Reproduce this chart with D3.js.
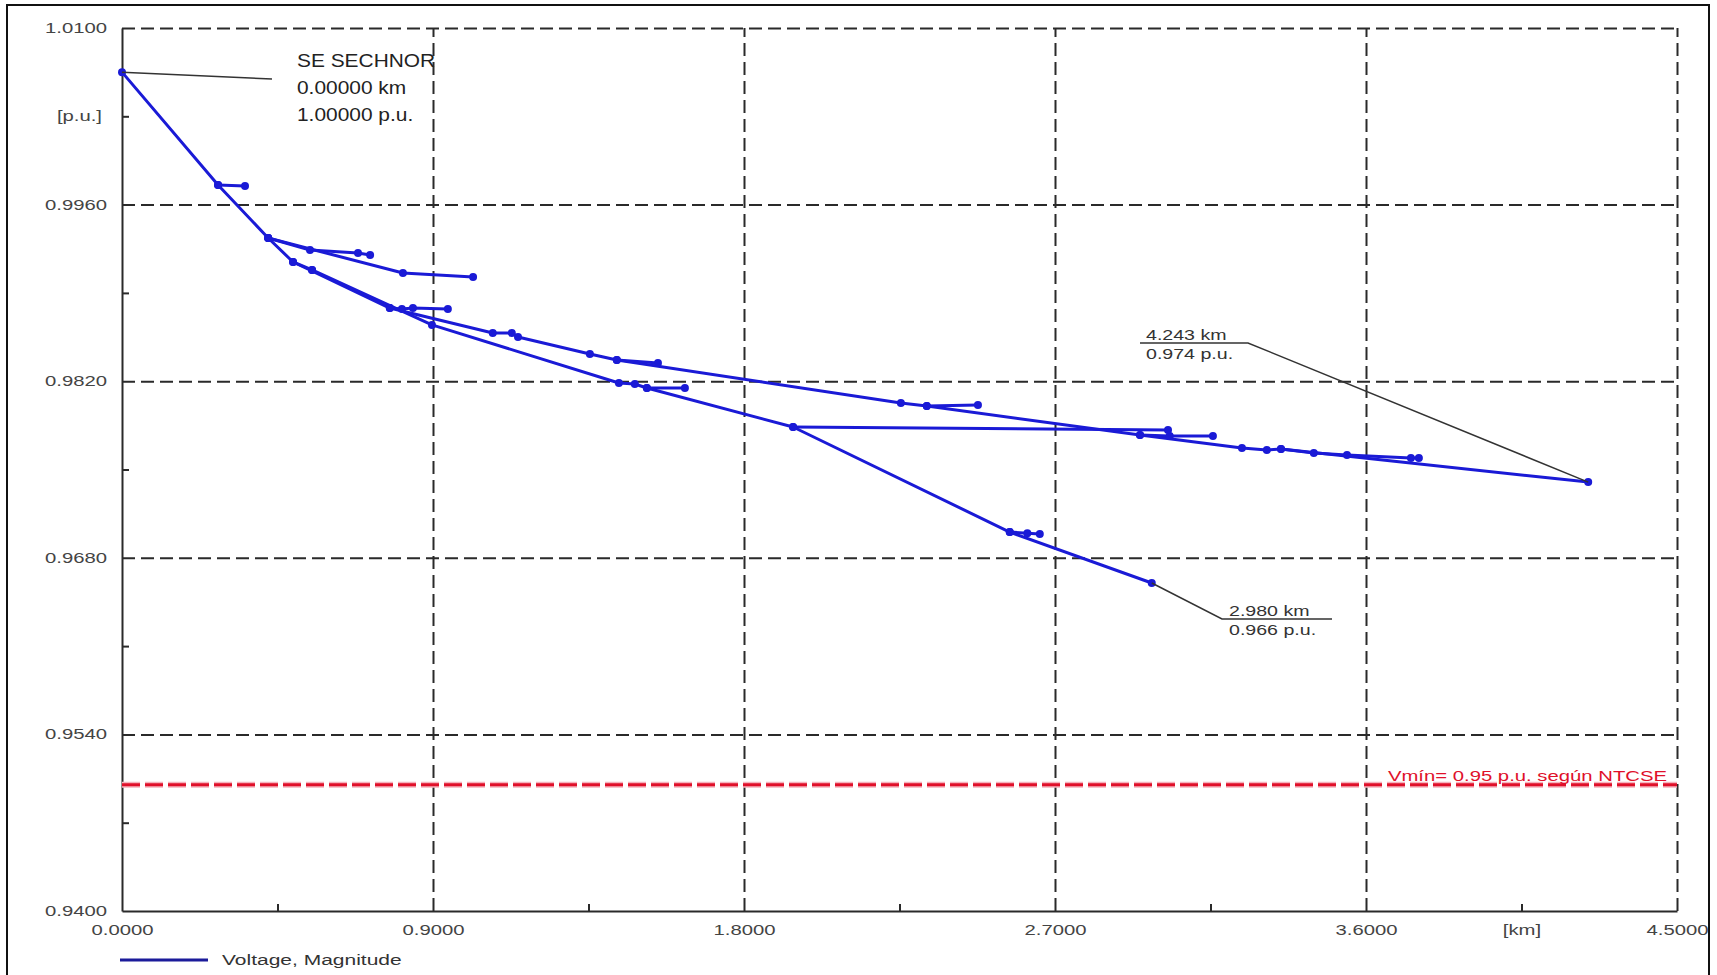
<!DOCTYPE html>
<html>
<head>
<meta charset="utf-8">
<script src="https://cdn.jsdelivr.net/npm/d3@7"></script>
<style>
body { margin: 0; background: #fff; }
svg { display: block; font-family: "Liberation Sans", Arial, sans-serif; }
</style>
</head>
<body>
<svg id="svg"></svg>
<script>
var width = 1717, height = 975;

// voltage profile, each branch as [distance km, voltage p.u.]
var trunk = [[0, 1.0065], [0.278, 0.99755], [0.423, 0.99335], [0.495, 0.99145], [0.550, 0.99082]];
var spur1 = [[0.278, 0.99755], [0.356, 0.99747]];
var upperA = [[0.423, 0.99335], [0.544, 0.9924], [0.683, 0.99216], [0.718, 0.9920]];
var upperB = [[0.423, 0.99335], [0.813, 0.99058], [1.016, 0.99026]];
var feederA = [[0.495, 0.99145], [0.775, 0.9878], [1.073, 0.98582], [1.128, 0.98582], [1.146, 0.9855],
	[1.354, 0.98416], [1.432, 0.98368], [2.254, 0.98027], [2.329, 0.98003], [2.946, 0.97773],
	[3.241, 0.9767], [3.313, 0.97654], [3.354, 0.97662], [4.243, 0.974]];
var spurA1 = [[0.775, 0.9878], [0.810, 0.98772], [0.842, 0.9878], [0.943, 0.98772]];
var spurA2 = [[1.432, 0.98368], [1.551, 0.98344]];
var spurA3 = [[2.329, 0.98003], [2.477, 0.98011]];
var spurA4 = [[2.946, 0.97773], [3.032, 0.97765], [3.157, 0.97765]];
var spurA5 = [[3.354, 0.97662], [3.449, 0.97631], [3.545, 0.97615], [3.730, 0.97591], [3.753, 0.97591]];
var feederB = [[0.550, 0.99082], [0.897, 0.98646], [1.438, 0.98186], [1.484, 0.98178], [1.519, 0.98146],
	[1.942, 0.97837], [2.569, 0.97004], [2.980, 0.966]];
var spurB1 = [[1.519, 0.98146], [1.629, 0.98146]];
var spurB2 = [[1.942, 0.97837], [3.027, 0.97813]];
var spurB3 = [[2.569, 0.97004], [2.620, 0.96995], [2.656, 0.96989]];

var xTicks = [0, 0.9, 1.8, 2.7, 3.6, 4.5];
var xMinor = [0.45, 1.35, 2.25, 3.15, 4.05];
var yTicks = [0.94, 0.954, 0.968, 0.982, 0.996, 1.01];
var yMinor = [0.947, 0.961, 0.975, 0.989, 1.003];
var xUnit = "[km]", yUnit = "[p.u.]";
var vmin = 0.95;
var vminLabel = "Vmín= 0.95 p.u. según NTCSE";
var sourceLabel = ["SE SECHNOR", "0.00000 km", "1.00000 p.u."];
var endLabel = ["4.243 km", "0.974 p.u."];
var lowLabel = ["2.980 km", "0.966 p.u."];
var legendLabel = "Voltage, Magnitude";

var svg = d3.select("#svg")
	.attr("width", width)
	.attr("height", height);

var x = d3.scaleLinear().domain([0, 4.5]).range([122, 1677]);
var y = d3.scaleLinear().domain([0.94, 1.01]).range([911, 28]);
var plotW = 1555, plotH = 883;

// the picture's lettering is wide, squeeze it out horizontally
function stretch(sel, k)
{
	sel.each(function() {
		var t = d3.select(this);
		t.attr("x", (+t.attr("x") || 0) / k)
			.attr("transform", "scale(" + k + ",1)");
	});
}

svg.append("rect")
	.attr("x", 7).attr("y", 5)
	.attr("width", 1702).attr("height", 1000)
	.attr("fill", "none")
	.attr("stroke", "#111")
	.attr("stroke-width", 2);

// dashed grid
var xGrid = svg.append("g")
	.attr("transform", "translate(0," + y(0.94) + ")")
	.call(d3.axisBottom(x).tickValues(xTicks.slice(1)).tickSize(-plotH).tickFormat(""));
xGrid.select(".domain").remove();
var yGrid = svg.append("g")
	.attr("transform", "translate(" + x(0) + ",0)")
	.call(d3.axisLeft(y).tickValues(yTicks.slice(1)).tickSize(-plotW).tickFormat(""));
yGrid.select(".domain").remove();
svg.selectAll("g line")
	.attr("stroke", "#2a2a2a")
	.attr("stroke-width", 2)
	.attr("stroke-dasharray", "13,6");

// axes with minor ticks
var yAxis = svg.append("g")
	.attr("transform", "translate(" + x(0) + ",0)")
	.call(d3.axisLeft(y).tickValues(yMinor).tickSize(-7).tickSizeOuter(0).tickFormat(""));
var xAxis = svg.append("g")
	.attr("transform", "translate(0," + y(0.94) + ")")
	.call(d3.axisBottom(x).tickValues(xMinor).tickSize(-7).tickSizeOuter(0).tickFormat(""));
[yAxis, xAxis].forEach(function(g) {
	g.selectAll("line, path").attr("stroke", "#2a2a2a").attr("stroke-width", 2);
});

// tick labels
var yLab = svg.append("g")
	.attr("transform", "translate(" + x(0) + ",0)")
	.call(d3.axisLeft(y).tickValues(yTicks).tickSize(0).tickPadding(15).tickFormat(d3.format(".4f")));
var yUnitLab = svg.append("g")
	.attr("transform", "translate(" + x(0) + ",0)")
	.call(d3.axisLeft(y).tickValues([1.003]).tickSize(0).tickPadding(20).tickFormat(function() { return yUnit; }));
var xLab = svg.append("g")
	.attr("transform", "translate(0," + y(0.94) + ")")
	.call(d3.axisBottom(x).tickValues(xTicks).tickSize(0).tickPadding(14).tickFormat(d3.format(".4f")));
var xUnitLab = svg.append("g")
	.attr("transform", "translate(0," + y(0.94) + ")")
	.call(d3.axisBottom(x).tickValues([4.05]).tickSize(0).tickPadding(14).tickFormat(function() { return xUnit; }));
[yLab, yUnitLab, xLab, xUnitLab].forEach(function(g) {
	g.select(".domain").remove();
	g.attr("font-family", null).attr("font-size", 14);
	g.selectAll("text").attr("fill", "#444");
	stretch(g.selectAll("text"), 1.45);
});

// limit line
svg.append("line")
	.attr("x1", x(0)).attr("x2", x(4.5))
	.attr("y1", y(vmin)).attr("y2", y(vmin))
	.attr("stroke", "#f5b3bd")
	.attr("stroke-width", 6)
	.attr("stroke-dasharray", "18,5");
svg.append("line")
	.attr("x1", x(0)).attr("x2", x(4.5))
	.attr("y1", y(vmin)).attr("y2", y(vmin))
	.attr("stroke", "#e0102a")
	.attr("stroke-width", 3)
	.attr("stroke-dasharray", "18,5");
var vl = svg.append("text")
	.attr("x", 1667)
	.attr("y", y(vmin) - 4)
	.attr("font-size", 14)
	.attr("fill", "#e0102a")
	.style("text-anchor", "end")
	.text(vminLabel);
stretch(vl, 1.45);

// profile
var branches = [trunk, spur1, upperA, upperB, feederA, spurA1, spurA2, spurA3, spurA4, spurA5,
	feederB, spurB1, spurB2, spurB3];
var line = d3.line()
	.x(function(d) { return x(d[0]); })
	.y(function(d) { return y(d[1]); });
svg.append("g")
	.selectAll("path")
	.data(branches)
	.enter()
	.append("path")
	.attr("d", line)
	.attr("fill", "none")
	.attr("stroke", "#1a1ad6")
	.attr("stroke-width", 3)
	.attr("stroke-linejoin", "round");
svg.append("g")
	.selectAll("circle")
	.data(d3.merge(branches))
	.enter()
	.append("circle")
	.attr("cx", function(d) { return x(d[0]); })
	.attr("cy", function(d) { return y(d[1]); })
	.attr("r", 4)
	.attr("fill", "#1a1ad6");

// callouts
var src = trunk[0], end = feederA[feederA.length - 1], low = feederB[feederB.length - 1];
var lead = d3.line();
svg.append("path")
	.attr("d", lead([[x(src[0]), y(src[1])], [272, 79]]))
	.attr("fill", "none").attr("stroke", "#333").attr("stroke-width", 1.5);
svg.append("path")
	.attr("d", lead([[x(end[0]), y(end[1])], [1248, 343], [1140, 343]]))
	.attr("fill", "none").attr("stroke", "#333").attr("stroke-width", 1.5);
svg.append("path")
	.attr("d", lead([[x(low[0]), y(low[1])], [1222, 619], [1332, 619]]))
	.attr("fill", "none").attr("stroke", "#333").attr("stroke-width", 1.5);

var st = svg.append("g").selectAll("text")
	.data(sourceLabel)
	.enter()
	.append("text")
	.attr("x", 297)
	.attr("y", function(d, i) { return 67 + i * 27; })
	.attr("font-size", 19)
	.attr("fill", "#222")
	.text(function(d) { return d; });
stretch(st, 1.1);
var et = svg.append("g").selectAll("text")
	.data(endLabel)
	.enter()
	.append("text")
	.attr("x", 1146)
	.attr("y", function(d, i) { return 340 + i * 19; })
	.attr("font-size", 14)
	.attr("fill", "#333")
	.text(function(d) { return d; });
stretch(et, 1.4);
var lt = svg.append("g").selectAll("text")
	.data(lowLabel)
	.enter()
	.append("text")
	.attr("x", 1229)
	.attr("y", function(d, i) { return 616 + i * 19; })
	.attr("font-size", 14)
	.attr("fill", "#333")
	.text(function(d) { return d; });
stretch(lt, 1.4);

// legend
svg.append("line")
	.attr("x1", 120).attr("x2", 208)
	.attr("y1", 960).attr("y2", 960)
	.attr("stroke", "#1b1b9a")
	.attr("stroke-width", 3);
var lg = svg.append("text")
	.attr("x", 222)
	.attr("y", 965)
	.attr("font-size", 15)
	.attr("fill", "#333")
	.text(legendLabel);
stretch(lg, 1.4);
</script>
</body>
</html>
